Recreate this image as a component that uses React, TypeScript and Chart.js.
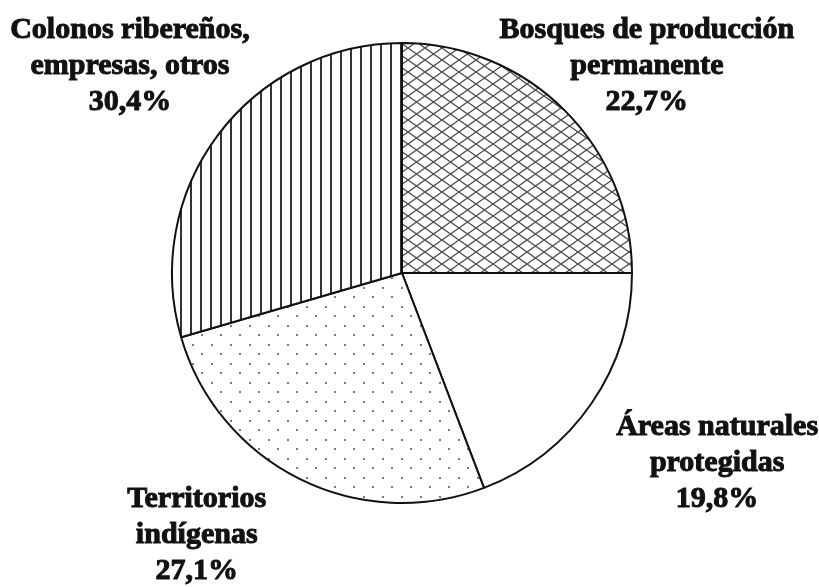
import React, { useEffect, useRef } from "react";
import { Chart, registerables } from "chart.js";

Chart.register(...registerables);

// Categories in drawing order (clockwise from 12 o'clock)
const categories = [
  "Bosques de producción permanente",
  "Áreas naturales protegidas",
  "Territorios indígenas",
  "Colonos ribereños, empresas, otros",
];

// Label text as printed
const labelLines = [
  ["Bosques de producción", "permanente"],
  ["Áreas naturales", "protegidas"],
  ["Territorios", "indígenas"],
  ["Colonos ribereños,", "empresas, otros"],
];
const percentLabels = ["22,7%", "19,8%", "27,1%", "30,4%"];

// Slice sizes as drawn in the picture (%)
const sliceShares = [25.0, 19.2, 26.3, 29.5];

function makeTile(w: number, h: number, draw: (c: CanvasRenderingContext2D) => void) {
  const cv = document.createElement("canvas");
  cv.width = w;
  cv.height = h;
  const c = cv.getContext("2d")!;
  c.fillStyle = "#ffffff";
  c.fillRect(0, 0, w, h);
  draw(c);
  return cv;
}

function makePatterns(ctx: CanvasRenderingContext2D) {
  const cross = makeTile(17, 12, (c) => {
    c.strokeStyle = "#4a4a4a";
    c.lineWidth = 1.3;
    c.beginPath();
    c.moveTo(0, 0);
    c.lineTo(17, 12);
    c.moveTo(17, 0);
    c.lineTo(0, 12);
    c.stroke();
  });
  const blank = makeTile(4, 4, () => {});
  const dots = makeTile(19, 19, (c) => {
    c.fillStyle = "#7a7a7a";
    c.fillRect(2, 2, 2, 2);
    c.fillRect(11, 11, 2, 2);
  });
  const vlines = makeTile(10, 4, (c) => {
    c.fillStyle = "#333333";
    c.fillRect(0, 0, 2, 4);
  });
  return [cross, blank, dots, vlines].map((t) => ctx.createPattern(t, "repeat") as CanvasPattern);
}

const outerLabels = {
  id: "outerLabels",
  afterDraw(chart: any, _args: any, opts: any) {
    const meta = chart.getDatasetMeta(0);
    const ctx = chart.ctx as CanvasRenderingContext2D;
    ctx.save();
    ctx.font = opts.font;
    ctx.fillStyle = "#111";
    ctx.strokeStyle = "#111";
    ctx.lineWidth = opts.strokeWidth;
    ctx.textAlign = "center";
    ctx.textBaseline = "alphabetic";
    meta.data.forEach((arc: any, i: number) => {
      const { x, y, outerRadius } = arc.getProps(["x", "y", "outerRadius"], true);
      const p = opts.placement[i];
      const a = (p.angle * Math.PI) / 180;
      const cx = x + Math.sin(a) * outerRadius * p.dist;
      const cy = y - Math.cos(a) * outerRadius * p.dist;
      const lines = [...labelLines[i], percentLabels[i]];
      lines.forEach((t, k) => {
        const by = cy + 10 + (k - 1) * opts.lineHeight;
        ctx.strokeText(t, cx, by);
        ctx.fillText(t, cx, by);
      });
    });
    ctx.restore();
  },
};

export default function App() {
  const ref = useRef<HTMLCanvasElement | null>(null);

  useEffect(() => {
    const canvas = ref.current!;
    const ctx = canvas.getContext("2d")!;
    const patterns = makePatterns(ctx);
    const chart = new Chart(canvas, {
      type: "pie",
      data: {
        labels: categories,
        datasets: [
          {
            data: sliceShares,
            backgroundColor: patterns as any,
            borderColor: "#111",
            borderWidth: 2,
          },
        ],
      },
      options: {
        animation: false,
        responsive: true,
        maintainAspectRatio: false,
        layout: { padding: { left: 171, right: 186, top: 42, bottom: 83 } },
        plugins: {
          legend: { display: false },
          tooltip: { enabled: false },
          outerLabels: {
            font: "bold 30px 'Liberation Serif', 'Times New Roman', serif",
            lineHeight: 36,
            strokeWidth: 1,
            placement: [
              { angle: 49.5, dist: 1.4 },
              { angle: 120.8, dist: 1.595 },
              { angle: 218.3, dist: 1.44 },
              { angle: 307.5, dist: 1.491 },
            ],
          },
        } as any,
      },
      plugins: [outerLabels],
    });
    return () => chart.destroy();
  }, []);

  return (
    <div style={{ position: "absolute", left: 0, top: 0, width: 819, height: 587, background: "#fff" }}>
      <canvas ref={ref} />
    </div>
  );
}
